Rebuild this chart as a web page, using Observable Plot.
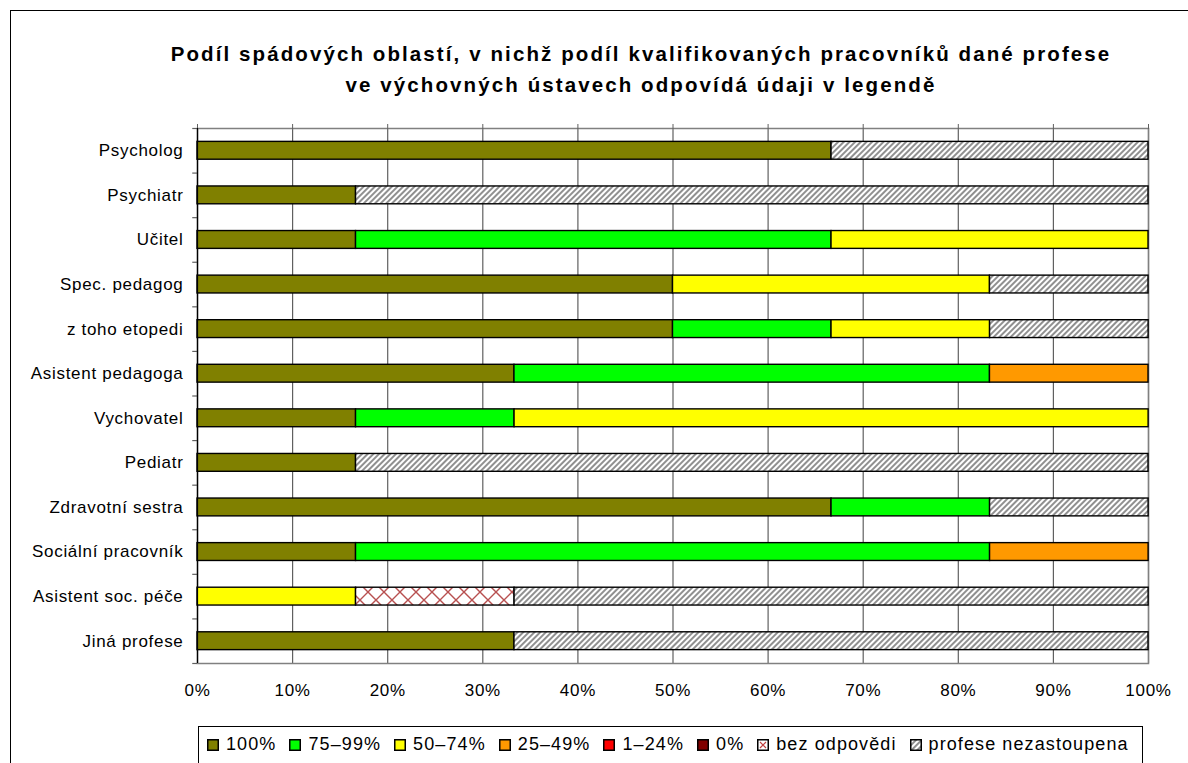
<!DOCTYPE html>
<html>
<head>
<meta charset="utf-8">
<script src="https://cdn.jsdelivr.net/npm/d3@7"></script>
<script src="https://cdn.jsdelivr.net/npm/@observablehq/plot@0.6"></script>
<style>
  html, body { margin: 0; padding: 0; background: #fff; }
  #wrap { position: relative; width: 1188px; height: 763px; overflow: hidden; font-family: "Liberation Sans", Arial, sans-serif; }
  #frame { position: absolute; left: 10px; top: 10px; width: 1300px; height: 900px; border: 1px solid #000; box-sizing: border-box; }
  #title { position: absolute; left: 10px; width: 1262px; top: 38px; text-align: center; font-weight: bold; font-size: 20.5px; line-height: 31px; letter-spacing: 2.1px; color: #000; }
  #title div { width: 1262px; }
  #plot { position: absolute; left: 0; top: 0; }
  #legend { position: absolute; left: 198px; top: 726px; width: 945px; height: 60px; border: 1px solid #000; box-sizing: border-box; display: flex; align-items: flex-start; padding: 7px 0 0 8px; gap: 0; font-size: 18px; letter-spacing: 1.1px; color: #000; }
  .item { display: flex; align-items: center; margin-right: 13px; white-space: nowrap; }
  .item svg { margin-right: 7px; }
</style>
</head>
<body>
<div id="wrap">
  <div id="frame"></div>
  <div id="title"></div>
  <div id="plot"></div>
  <div id="legend"></div>
</div>
<script>
const titleLines = [
  "Podíl spádových oblastí, v nichž podíl kvalifikovaných pracovníků dané profese",
  "ve výchovných ústavech odpovídá údaji v legendě"
];
const categories = [
  "Psycholog", "Psychiatr", "Učitel", "Spec. pedagog", "z toho etopedi",
  "Asistent pedagoga", "Vychovatel", "Pediatr", "Zdravotní sestra",
  "Sociální pracovník", "Asistent soc. péče", "Jiná profese"
];
const levels = ["100%", "75–99%", "50–74%", "25–49%", "1–24%", "0%", "bez odpovědi", "profese nezastoupena"];
const levelColors = ["#808000", "#00FF00", "#FFFF00", "#FF9900", "#FF0000", "#800000", "url(#crossHatch)", "url(#diagStripe)"];

// values in % per category (same order as categories)
const v100  = [66.67, 16.67, 16.67, 50, 50, 33.33, 16.67, 16.67, 66.67, 16.67, 0, 33.33];
const v75   = [0, 0, 50, 0, 16.67, 50, 16.67, 0, 16.67, 66.67, 0, 0];
const v50   = [0, 0, 33.33, 33.33, 16.67, 0, 66.67, 0, 0, 0, 16.67, 0];
const v25   = [0, 0, 0, 0, 0, 16.67, 0, 0, 0, 16.67, 0, 0];
const v1    = [0, 0, 0, 0, 0, 0, 0, 0, 0, 0, 0, 0];
const v0    = [0, 0, 0, 0, 0, 0, 0, 0, 0, 0, 0, 0];
const vBez  = [0, 0, 0, 0, 0, 0, 0, 0, 0, 0, 16.67, 0];
const vNez  = [33.33, 83.33, 0, 16.67, 16.67, 0, 0, 83.33, 16.67, 0, 66.67, 66.67];
const xTicks = [0, 10, 20, 30, 40, 50, 60, 70, 80, 90, 100];

const series = [v100, v75, v50, v25, v1, v0, vBez, vNez];
const rows = [];
categories.forEach((c, i) => {
  levels.forEach((l, j) => {
    if (series[j][i] > 0) rows.push({category: c, level: l, value: series[j][i]});
  });
});

document.getElementById("title").innerHTML = titleLines.map(t => `<div>${t}</div>`).join("");

const W = 1188, H = 720, mT = 128, mB = 57, mL = 197, mR = 40;
const step = (H - mT - mB) / categories.length;

const plot = Plot.plot({
  width: W, height: H,
  marginTop: mT, marginBottom: mB, marginLeft: mL, marginRight: mR,
  style: {fontFamily: "'Liberation Sans', Arial, sans-serif", fontSize: "17px", letterSpacing: "0.7px", color: "#000", background: "transparent", overflow: "visible"},
  x: {domain: [0, 100]},
  y: {domain: categories, paddingInner: 0.6, paddingOuter: 0.3, round: false},
  color: {domain: levels, range: levelColors},
  marks: [
    Plot.ruleX(xTicks, {stroke: "#606060", strokeWidth: 1.2}),
    Plot.frame({stroke: "#808080", strokeWidth: 1.5}),
    Plot.ruleY(categories, {y: d => d, x1: -0.5, x2: 0, dy: -step / 2, stroke: "#606060", strokeWidth: 1.2}),
    Plot.ruleY(categories.slice(-1), {y: d => d, x1: -0.5, x2: 0, dy: step / 2, stroke: "#606060", strokeWidth: 1.2}),
    Plot.axisX(xTicks, {anchor: "top", tickSize: 5, tickFormat: () => "", stroke: "#606060", label: null}),
    Plot.axisX(xTicks, {anchor: "bottom", tickSize: 0, tickPadding: 20, tickFormat: d => d + "%", fontSize: 17, label: null}),
    Plot.axisY({anchor: "left", tickSize: 0, tickPadding: 14, fontSize: 17, label: null}),
    Plot.barX(rows, {y: "category", x: "value", fill: "level", stroke: "#000", strokeWidth: 1.4}),
    Plot.ruleX([0], {stroke: "#000", strokeWidth: 1.2})
  ]
});

plot.insertAdjacentHTML("afterbegin", `
<defs>
  <pattern id="diagStripe" patternUnits="userSpaceOnUse" width="4" height="4" patternTransform="rotate(45)">
    <rect width="4" height="4" fill="#ffffff"/>
    <rect width="2" height="4" fill="#909090"/>
  </pattern>
  <pattern id="crossHatch" patternUnits="userSpaceOnUse" width="16" height="16">
    <rect width="16" height="16" fill="#ffffff"/>
    <path d="M0,0L16,16M16,0L0,16" stroke="#b85050" stroke-width="1.4"/>
  </pattern>
</defs>`);
document.getElementById("plot").appendChild(plot);

const legend = document.getElementById("legend");
levels.forEach((l, j) => {
  const item = document.createElement("div");
  item.className = "item";
  let sw;
  if (l === "bez odpovědi") {
    sw = `<svg width="12" height="12"><rect x="0.75" y="0.75" width="10.5" height="10.5" fill="#fff" stroke="#000" stroke-width="1.5"/><path d="M3,3L9,9M9,3L3,9" stroke="#c04040" stroke-width="1.2"/></svg>`;
  } else {
    sw = `<svg width="12" height="12"><rect x="0.75" y="0.75" width="10.5" height="10.5" fill="${levelColors[j]}" stroke="#000" stroke-width="1.5"/></svg>`;
  }
  item.innerHTML = sw + `<span>${l}</span>`;
  legend.appendChild(item);
});
</script>
</body>
</html>
